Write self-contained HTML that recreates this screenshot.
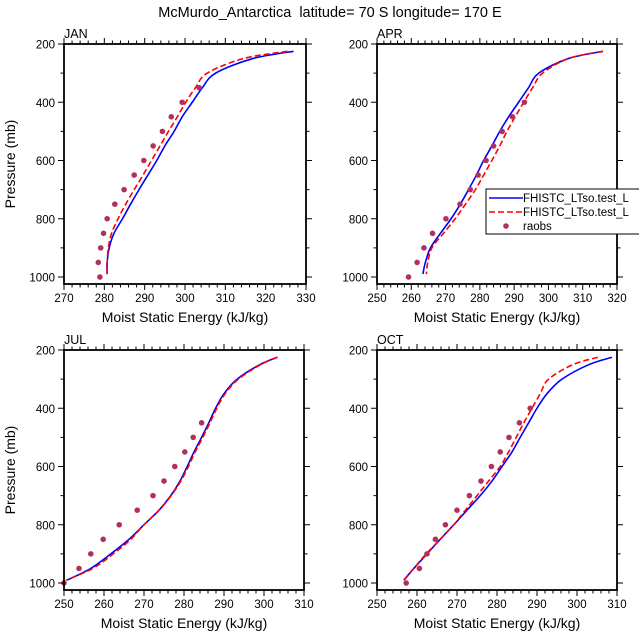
<!DOCTYPE html>
<html><head><meta charset="utf-8"><style>
body{margin:0;background:#fff;}
svg{display:block;font-family:"Liberation Sans",Arial,sans-serif;}
</style></head><body>
<svg id="c" width="639" height="639" viewBox="0 0 639 639">
<text x="330" y="17" text-anchor="middle" font-size="14.5">McMurdo_Antarctica &#160;latitude= 70 S longitude= 170 E</text>
</svg>
<script>
const levels=[225,250,300,350,400,450,500,550,600,650,700,750,800,850,900,950,990];
const janBlue=[326.9,316.8,307.6,304.3,301.8,299.3,297.3,295,293,290.8,288.6,286.5,284.5,282.4,281.2,280.7,280.7];
const janRed=[325.4,314.5,305.5,302.6,300.2,298.1,295.9,293.8,291.7,289.6,287.4,285.3,283.4,281.8,281,280.7,280.7];
const aprBlue=[315.9,305.8,297.2,294.2,291.3,288.4,285.8,283.5,281.1,279,276.7,274.3,271.6,268.5,265.6,264.1,263.4];
const aprRed=[315.9,305.8,298.3,295.4,292.8,290.3,287.9,285.8,283.5,281.1,278.7,275.8,272.8,269.4,266,264.8,264.4];
const julBlue=[303.3,299,293.3,290,287.9,286.2,284.4,282.5,280.8,279,276.7,273.75,270,266.25,261.7,256.7,250.8];
const julRed=[303.4,299.2,293.6,290.3,288.2,286.5,284.7,282.8,281.1,279.2,276.8,273.8,270,266.7,262.3,257.2,250.5];
const octBlue=[308.75,303,296.25,292.5,290,287.9,285.8,283.75,281.25,278.75,275.8,272.5,269.2,265.8,262.5,259.2,256.7];
const octRed=[305.2,299,292.9,290.8,288.75,286.7,284.8,282.9,280.8,277.9,275,272.1,269.2,265.8,262.3,259.2,256.8];
const obsLevels=[1000,950,900,850,800,750,700,650,600,550,500,450,400,350];
const janObs=[278.9,278.5,279.1,279.8,280.7,282.6,284.9,287.4,289.8,292.1,294.4,296.6,299.3,303.5];
const aprObs=[259.2,261.7,263.7,266.2,270.1,274.2,277.2,279.5,281.8,284,286.5,289.5,293];
const julObs=[250,253.75,256.7,259.8,263.8,268.3,272.25,275,277.7,280.2,282.3,284.4];
const octObs=[257.3,260.6,262.5,264.6,267.1,270,273.1,276,278.6,280.8,283,285.6,288.3];
const pTicks=[200,400,600,800,1000];

const NS="http://www.w3.org/2000/svg";
const svg=document.getElementById('c');
function mk(tag,attrs,parent){const e=document.createElementNS(NS,tag);for(const k in attrs)e.setAttribute(k,attrs[k]);(parent||svg).appendChild(e);return e;}

function smooth(pts){
  let d="M"+pts[0][0].toFixed(2)+","+pts[0][1].toFixed(2);
  for(let i=0;i<pts.length-1;i++){
    const p0=pts[Math.max(i-1,0)],p1=pts[i],p2=pts[i+1],p3=pts[Math.min(i+2,pts.length-1)];
    const c1=[p1[0]+(p2[0]-p0[0])/6,p1[1]+(p2[1]-p0[1])/6];
    const c2=[p2[0]-(p3[0]-p1[0])/6,p2[1]-(p3[1]-p1[1])/6];
    d+=" C"+c1[0].toFixed(2)+","+c1[1].toFixed(2)+" "+c2[0].toFixed(2)+","+c2[1].toFixed(2)+" "+p2[0].toFixed(2)+","+p2[1].toFixed(2);
  }
  return d;
}

function panel(cfg){
  const g=mk('g',{});
  
  
  const L=cfg.x0,R=cfg.x1,T=cfg.y0,B=cfg.y0+240;
  const xs=v=>L+(v-cfg.xmin)/(cfg.xmax-cfg.xmin)*(R-L);
  const ys=p=>T+(p-200)*(233/800);
  const c1=mk('path',{d:smooth(levels.map((p,i)=>[xs(cfg.blue[i]),ys(p)])),fill:'none',stroke:'#0000ff','stroke-width':1.6},g);
  
  
  const c2=mk('path',{d:smooth(levels.map((p,i)=>[xs(cfg.red[i]),ys(p)])),fill:'none',stroke:'#ff0000','stroke-width':1.6,'stroke-dasharray':'6,3'},g);
  
  
  cfg.obs.forEach((v,i)=>{
    const c=mk('circle',{cx:xs(v),cy:ys(obsLevels[i]),r:2.8,fill:'#b03060'},g);
    
    
  });
  const fr=mk('rect',{x:L,y:T,width:R-L,height:B-T,fill:'none',stroke:'#000','stroke-width':1.8},g);
  
  
  for(let v=cfg.xmin;v<=cfg.xmax+0.01;v+=2){
    const major=Math.abs((v-cfg.xmin)%10)<0.01;
    const len=major?6:3.5,x=xs(v);
    mk('line',{x1:x,y1:B,x2:x,y2:B+len,stroke:'#000','stroke-width':1},g);
    mk('line',{x1:x,y1:T,x2:x,y2:T-len,stroke:'#000','stroke-width':1},g);
    if(major){const t=mk('text',{x:x,y:B+18,'text-anchor':'middle','font-size':11.5},g);t.textContent=v;
      }
  }
  for(let p=200;p<=1000;p+=100){
    const major=p%200===0,len=major?6:3.5,y=ys(p);
    mk('line',{x1:L,y1:y,x2:L-len,y2:y,stroke:'#000','stroke-width':1},g);
    mk('line',{x1:R,y1:y,x2:R+len,y2:y,stroke:'#000','stroke-width':1},g);
  }
  pTicks.forEach(p=>{const t=mk('text',{x:L-9,y:ys(p)+4.5,'text-anchor':'end','font-size':11.5},g);t.textContent=p;
    });
  const xt=mk('text',{x:(L+R)/2,y:B+38,'text-anchor':'middle','font-size':14},g);xt.textContent='Moist Static Energy (kJ/kg)';
  
  const lb=mk('text',{x:L,y:T-6,'font-size':12.5},g);lb.textContent=cfg.label;
  
  if(cfg.ytitle){const yt=mk('text',{x:0,y:0,'text-anchor':'middle','font-size':14,transform:'translate(15,'+((T+B)/2)+') rotate(-90)'},g);yt.textContent='Pressure (mb)';
    }
}
panel({name:'jan',label:'JAN',x0:64,x1:306,y0:44,xmin:270,xmax:330,blue:janBlue,red:janRed,obs:janObs,ytitle:true});
panel({name:'apr',label:'APR',x0:377,x1:617,y0:44,xmin:250,xmax:320,blue:aprBlue,red:aprRed,obs:aprObs,ytitle:false});
panel({name:'jul',label:'JUL',x0:64,x1:304,y0:350,xmin:250,xmax:310,blue:julBlue,red:julRed,obs:julObs,ytitle:true});
panel({name:'oct',label:'OCT',x0:377,x1:617,y0:350,xmin:250,xmax:310,blue:octBlue,red:octRed,obs:octObs,ytitle:false});

const lg=mk('g',{});


mk('rect',{x:486,y:189,width:160,height:45,fill:'#fff',stroke:'#000','stroke-width':1},lg);
mk('line',{x1:489,y1:198,x2:523,y2:198,stroke:'#0000ff','stroke-width':1.6},lg);
mk('line',{x1:489,y1:212,x2:523,y2:212,stroke:'#ff0000','stroke-width':1.6,'stroke-dasharray':'6,3'},lg);
mk('circle',{cx:506,cy:226,r:2.8,fill:'#b03060'},lg);
[['FHISTC_LTso.test_L',202],['FHISTC_LTso.test_L',216],['raobs',230]].forEach((a,i)=>{
  const t=mk('text',{x:523,y:a[1],'font-size':11.5},lg);t.textContent=a[0];
  
  
});
</script>
</body></html>
